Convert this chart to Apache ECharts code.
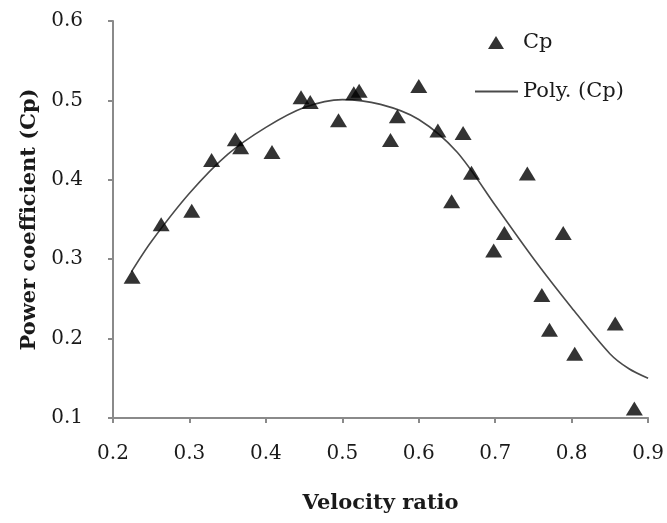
<!DOCTYPE html>
<html>
<head>
<meta charset="utf-8">
<script src="https://cdn.jsdelivr.net/npm/echarts@6/dist/echarts.min.js"></script>
<style>html,body{margin:0;padding:0;background:#fff;}#c{width:667px;height:523px;}</style>
</head>
<body>
<div id="c"></div>
<script>
// Measured Cp points: velocity ratio, power coefficient
const cpX = [0.225,0.263,0.303,0.329,0.360,0.367,0.408,0.446,0.458,0.495,0.515,0.522,0.563,0.572,0.600,0.625,0.643,0.658,0.669,0.698,0.712,0.742,0.761,0.771,0.789,0.804,0.857,0.882];
const cpY = [0.278,0.344,0.361,0.425,0.451,0.441,0.435,0.504,0.498,0.475,0.509,0.512,0.450,0.480,0.518,0.462,0.373,0.459,0.409,0.311,0.333,0.408,0.255,0.211,0.333,0.181,0.219,0.112];
// Trendline "Poly. (Cp)"
const polyX = [0.224,0.250,0.300,0.350,0.400,0.450,0.500,0.550,0.600,0.650,0.700,0.750,0.800,0.850,0.875,0.900];
const polyY = [0.284,0.322,0.383,0.432,0.466,0.491,0.501,0.495,0.476,0.435,0.368,0.301,0.239,0.181,0.162,0.150];
const xTicks = [0.2,0.3,0.4,0.5,0.6,0.7,0.8,0.9];
const yTicks = [0.1,0.2,0.3,0.4,0.5,0.6];

const FONT = 'DejaVu Serif';
const axisCol = '#8a8a8a';
const chart = echarts.init(document.getElementById('c'), null, {renderer:'canvas'});
chart.setOption({
  animation:false,
  backgroundColor:'#fff',
  grid:{left:113, right:18, top:21, bottom:105, containLabel:false},
  legend:[{
    data:[{name:'Cp', icon:'triangle'}],
    left:488, top:32, padding:0, itemWidth:16, itemHeight:13,
    textStyle:{fontFamily:FONT, fontSize:21, color:'#1a1a1a', padding:[0,0,0,14]}
  },{
    data:[{name:'Poly. (Cp)', icon:'rect'}],
    left:475, top:81, padding:0, itemWidth:43, itemHeight:2,
    textStyle:{fontFamily:FONT, fontSize:21, color:'#1a1a1a'}
  }],
  xAxis:{
    type:'value', min:xTicks[0], max:xTicks[xTicks.length-1], interval:0.1,
    name:'Velocity ratio', nameLocation:'middle', nameGap:75,
    nameTextStyle:{fontFamily:FONT, fontSize:21, fontWeight:'bold', color:'#1a1a1a'},
    axisLine:{show:true, onZero:false, lineStyle:{color:axisCol, width:2}},
    axisTick:{show:true, length:5, lineStyle:{color:axisCol, width:2}},
    axisLabel:{fontFamily:FONT, fontSize:20, color:'#1a1a1a', margin:26, formatter:v=>v.toFixed(1)},
    splitLine:{show:false}
  },
  yAxis:{
    type:'value', min:yTicks[0], max:yTicks[yTicks.length-1], interval:0.1,
    name:'Power coefficient (Cp)', nameLocation:'middle', nameGap:66,
    nameTextStyle:{fontFamily:FONT, fontSize:21, fontWeight:'bold', color:'#1a1a1a'},
    axisLine:{show:true, onZero:false, lineStyle:{color:axisCol, width:2}},
    axisTick:{show:true, length:5, lineStyle:{color:axisCol, width:2}},
    axisLabel:{fontFamily:FONT, fontSize:20, color:'#1a1a1a', margin:30, formatter:v=>v.toFixed(1)},
    splitLine:{show:false}
  },
  series:[{
    name:'Poly. (Cp)', type:'line', smooth:0.3, symbol:'none',
    data: polyX.map((x,i)=>[x, polyY[i]]),
    lineStyle:{color:'#4a4a4a', width:1.6}, itemStyle:{color:'#4a4a4a'}, z:2
  },{
    name:'Cp', type:'scatter', symbol:'triangle', symbolSize:[17,14],
    data: cpX.map((x,i)=>[x, cpY[i]]),
    itemStyle:{color:'#000'}, z:3
  }]
});
</script>
</body>
</html>
